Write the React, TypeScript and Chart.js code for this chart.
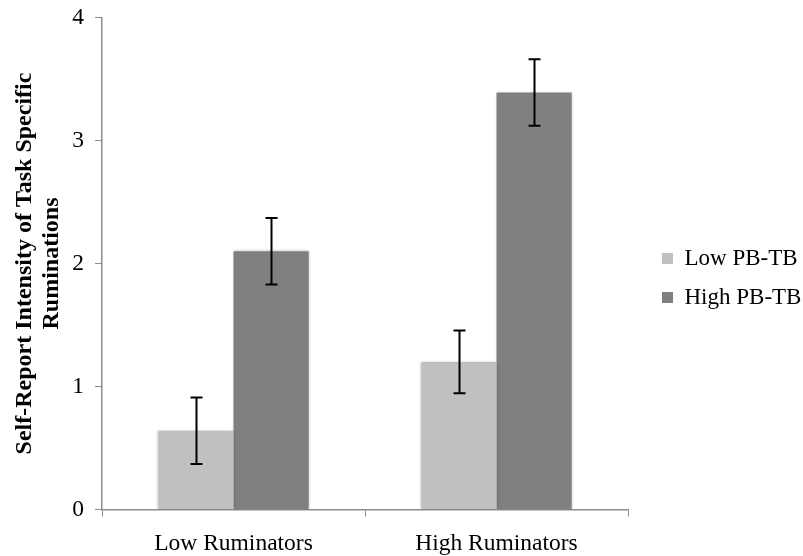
import React, { useEffect, useRef } from "react";
import { Chart, registerables } from "chart.js";

Chart.register(...registerables);

const categories = ["Low Ruminators", "High Ruminators"];
const seriesNames = ["Low PB-TB", "High PB-TB"];
const lowPbTb = [0.64, 1.2];
const highPbTb = [2.1, 3.39];
const lowPbTbErr = [0.27, 0.255];
const highPbTbErr = [0.27, 0.27];
const yTicks = [0, 1, 2, 3, 4];
const yTitle = ["Self-Report Intensity of Task Specific", "Ruminations"];

const FONT = "'Liberation Serif', 'Times New Roman', serif";
const AXIS_GRAY = "#8c8c8c";

const errorBarPlugin = {
  id: "errorBars",
  beforeDatasetsDraw(chart: any) {
    const ctx = chart.ctx;
    ctx.save();
    ctx.shadowColor = "rgba(0,0,0,0.28)";
    ctx.shadowBlur = 3;
    ctx.shadowOffsetX = 0;
    ctx.shadowOffsetY = 0;
  },
  afterDatasetsDraw(chart: any) {
    const ctx = chart.ctx;
    ctx.restore();
    const yScale = chart.scales.y;
    ctx.save();
    ctx.strokeStyle = "#000";
    ctx.lineWidth = 2;
    chart.data.datasets.forEach((ds: any, di: number) => {
      const meta = chart.getDatasetMeta(di);
      const errs: number[] = ds.errors || [];
      meta.data.forEach((bar: any, i: number) => {
        const v = ds.data[i];
        const e = errs[i];
        if (e == null) return;
        const x = Math.round(bar.x) + 0.5;
        const yTop = yScale.getPixelForValue(v + e);
        const yBot = yScale.getPixelForValue(v - e);
        const cap = 6;
        ctx.beginPath();
        ctx.moveTo(x, yTop);
        ctx.lineTo(x, yBot);
        ctx.moveTo(x - cap, yTop);
        ctx.lineTo(x + cap, yTop);
        ctx.moveTo(x - cap, yBot);
        ctx.lineTo(x + cap, yBot);
        ctx.stroke();
      });
    });
    ctx.restore();
  },
};

export default function App() {
  const canvasRef = useRef<HTMLCanvasElement | null>(null);

  useEffect(() => {
    if (!canvasRef.current) return;
    const chart = new Chart(canvasRef.current, {
      type: "bar",
      data: {
        labels: categories,
        datasets: [
          {
            label: seriesNames[0],
            data: lowPbTb,
            errors: lowPbTbErr,
            backgroundColor: "#c0c0c0",
            borderWidth: 0,
          } as any,
          {
            label: seriesNames[1],
            data: highPbTb,
            errors: highPbTbErr,
            backgroundColor: "#808080",
            borderWidth: 0,
          } as any,
        ],
      },
      options: {
        responsive: false,
        animation: false,
        events: [],
        layout: { padding: { top: 0, left: 0, right: 0, bottom: 0 } },
        datasets: {
          bar: { categoryPercentage: 0.572, barPercentage: 1.0 },
        },
        plugins: {
          tooltip: { enabled: false },
          legend: {
            position: "right",
            maxWidth: 157,
            labels: {
              boxWidth: 11,
              boxHeight: 11,
              padding: 16,
              color: "#000",
              font: { family: FONT, size: 23 },
            },
          } as any,
        },
        scales: {
          x: {
            type: "category",
            offset: true,
            grid: {
              display: true,
              drawOnChartArea: false,
              drawTicks: true,
              tickLength: 7,
              color: AXIS_GRAY,
              offset: true,
            },
            border: { display: true, color: AXIS_GRAY, width: 1.5 },
            ticks: {
              color: "#000",
              padding: 13,
              font: { family: FONT, size: 23.5 },
              maxRotation: 0,
            },
            afterFit: (s: any) => {
              s.height = 46.5;
            },
          },
          y: {
            type: "linear",
            min: 0,
            max: 4,
            afterBuildTicks: (s: any) => {
              s.ticks = yTicks.map((v) => ({ value: v }));
            },
            grid: {
              display: true,
              drawOnChartArea: false,
              drawTicks: true,
              tickLength: 7,
              color: AXIS_GRAY,
            },
            border: { display: true, color: AXIS_GRAY, width: 1.5 },
            ticks: {
              color: "#000",
              padding: 11,
              font: { family: FONT, size: 23.5 },
            },
            title: {
              display: true,
              text: yTitle,
              color: "#000",
              font: { family: FONT, size: 24, weight: "bold", lineHeight: 1.1 },
              padding: { top: 11.8, bottom: 0 },
            },
            afterFit: (s: any) => {
              s.width = 102;
              s.paddingTop = 17.5;
              s.paddingBottom = 0;
            },
          },
          spacer: {
            type: "linear",
            position: "right",
            display: true,
            grid: { display: false, drawTicks: false },
            border: { display: false },
            ticks: { display: false },
            afterFit: (s: any) => {
              s.width = 18;
            },
          },
        },
      } as any,
      plugins: [errorBarPlugin],
    });
    return () => chart.destroy();
  }, []);

  return (
    <div style={{ position: "fixed", left: 0, top: 0, width: 803, height: 556, background: "#fff" }}>
      <canvas ref={canvasRef} width={803} height={556} style={{ display: "block" }} />
    </div>
  );
}
